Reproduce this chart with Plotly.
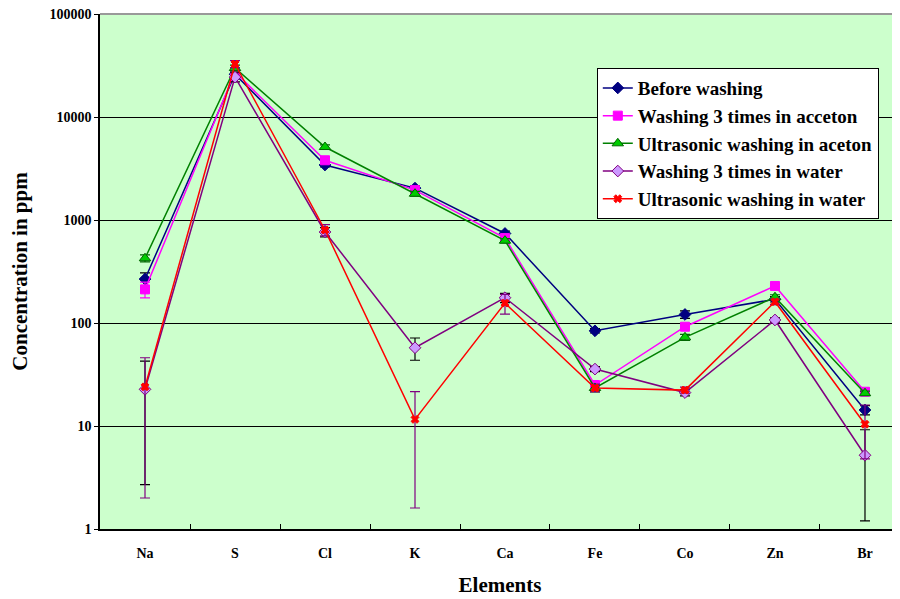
import plotly.graph_objects as go

elements = ["Na", "S", "Cl", "K", "Ca", "Fe", "Co", "Zn", "Br"]

before_washing = [267, 26000, 3420, 2040, 740, 84, 121, 170, 14.3]
acetone_3x = [212, 27300, 3800, 1950, 668, 25, 92, 229, 21.5]
acetone_ultra = [425, 29900, 5110, 1800, 630, 23.4, 72.6, 178, 20.8]
water_3x = [22.7, 24400, 765, 57.5, 176, 35.7, 21.1, 107, 5.2]
water_ultra = [24, 32700, 800, 11.6, 156, 23.4, 22.3, 161, 10.4]

err_before = [40, 2000, 150, 100, 40, 4, 10, 10, 1.5]
err_acetone_3x = [37, 2000, 200, 100, 40, 2, 5, 10, 1]
err_acetone_ultra = [33, 2000, 250, 100, 30, 2, 5, 10, 1]
err_water_3x = [20, 2500, 80, 14, 18, 2, 1.5, 5, 4]
err_water_ultra = [22, 2500, 100, 10, 34, 2, 1.5, 10, 5.6]

series = [
    ("Before washing", before_washing, err_before, "#000080",
     dict(symbol="diamond", size=9, color="#000080", line=dict(color="#000080", width=1)), "#000000"),
    ("Washing 3 times in acceton", acetone_3x, err_acetone_3x, "#FF00FF",
     dict(symbol="square", size=9, color="#FF00FF", line=dict(color="#FF00FF", width=1)), "#FF00FF"),
    ("Ultrasonic washing in aceton", acetone_ultra, err_acetone_ultra, "#008000",
     dict(symbol="triangle-up", size=10, color="#00CC00", line=dict(color="#006600", width=1)), "#006600"),
    ("Washing 3 times in water", water_3x, err_water_3x, "#800080",
     dict(symbol="diamond", size=9, color="#CC99FF", line=dict(color="#800080", width=1)), "#000000"),
    ("Ultrasonic washing in water", water_ultra, err_water_ultra, "#FF0000",
     dict(symbol="x", size=7, color="#FF0000", line=dict(color="#FF0000", width=1)), "#800080"),
]

fig = go.Figure()
for name, vals, errs, lc, mk, ec in series:
    fig.add_trace(go.Scatter(
        x=elements, y=vals, name=name, mode="lines+markers",
        line=dict(color=lc, width=1.5), marker=mk,
        error_y=dict(type="data", array=errs, visible=True, color=ec, thickness=1.2, width=5),
    ))

ff = "Liberation Serif"

fig.update_layout(
    width=892, height=591,
    margin=dict(l=92, r=0, t=6, b=70),
    paper_bgcolor="white",
    plot_bgcolor="#CCFFCC",
    font=dict(family=ff, color="black", size=14, weight="bold"),
    showlegend=True,
    legend=dict(
        x=0.621, y=0.895, xanchor="left", yanchor="top",
        bgcolor="white", bordercolor="black", borderwidth=1,
        font=dict(family=ff, size=19, color="black", weight="bold"),
    ),
    xaxis=dict(
        type="category", range=[-0.5, 8.389],
        showline=True, linecolor="black", linewidth=1.5,
        ticks="inside", tickson="boundaries", ticklen=5, tickcolor="black",
        showgrid=False, zeroline=False,
        ticklabelstandoff=10,
        tickfont=dict(size=14, family=ff, weight="bold"),
        title=dict(text="Elements", font=dict(size=21, family=ff, weight="bold"), standoff=18),
    ),
    yaxis=dict(
        type="log", range=[0, 5],
        tickvals=[1, 10, 100, 1000, 10000, 100000],
        ticktext=["1", "10", "100", "1000", "10000", "100000"],
        ticklabeloverflow="allow",
        showline=True, linecolor="black", linewidth=1.5,
        ticks="outside", ticklen=4, tickcolor="black",
        showgrid=True, gridcolor="black", gridwidth=1,
        zeroline=False,
        tickfont=dict(size=14, family=ff, weight="bold"),
        title=dict(text="Concentration in ppm", font=dict(size=21, family=ff, weight="bold"), standoff=22),
    ),
    shapes=[dict(type="line", xref="paper", yref="paper", x0=0, x1=1, y0=1, y1=1,
                 line=dict(color="#999999", width=2))],
)

fig.write_html("out.html")
